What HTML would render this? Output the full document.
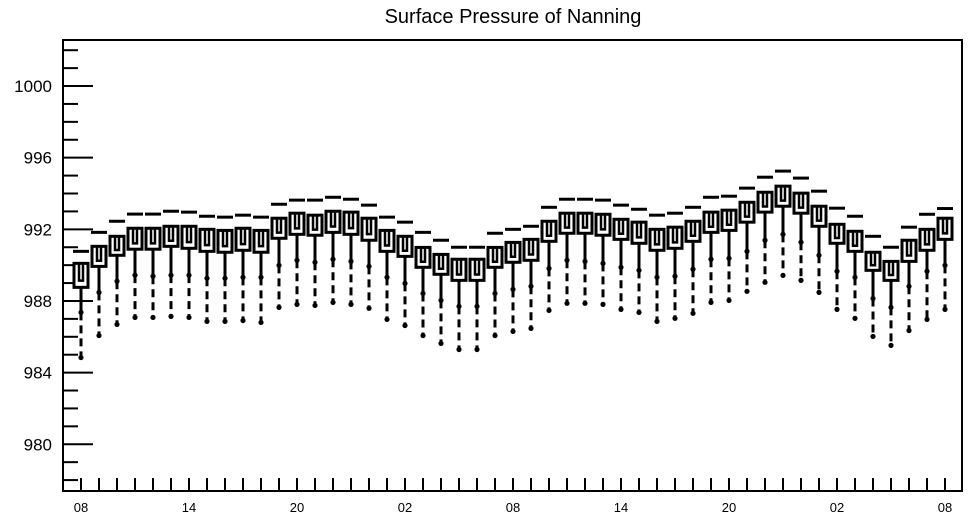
<!DOCTYPE html>
<html><head><meta charset="utf-8"><style>
html,body{margin:0;padding:0;background:#fff;}
svg{display:block;font-family:"Liberation Sans",sans-serif;}
</style></head><body>
<svg id="chart" width="968" height="520" viewBox="0 0 968 520" xmlns="http://www.w3.org/2000/svg">
<text x="513" y="23" font-size="20" text-anchor="middle" fill="#000">Surface Pressure of Nanning</text>
<g id="axes"></g>
<g id="boxes"></g>
</svg>
<script>
const xLabels = ["08","14","20","02","08","14","20","02","08"];
const yTicks = [980,984,988,992,996,1000];
const q3 = [990.10,991.05,991.61,992.06,992.06,992.17,992.17,992.00,991.94,992.06,991.94,992.62,992.90,992.79,993.01,992.96,992.62,991.94,991.61,990.99,990.60,990.33,990.33,990.99,991.27,991.44,992.45,992.90,992.90,992.84,992.56,992.40,992.00,992.12,992.45,992.96,993.07,993.51,994.07,994.41,994.02,993.29,992.28,991.89,990.72,990.21,991.39,992.00,992.62];
const q1 = [988.76,989.93,990.55,990.89,990.89,991.05,990.94,990.77,990.72,990.83,990.72,991.50,991.72,991.67,991.83,991.72,991.39,990.77,990.49,989.88,989.49,989.15,989.15,989.88,990.16,990.27,991.33,991.78,991.78,991.67,991.44,991.22,990.83,990.94,991.33,991.83,991.94,992.40,992.96,993.29,992.90,992.17,991.22,990.77,989.71,989.15,990.21,990.83,991.44];
const maxV = [990.77,991.83,992.45,992.85,992.85,993.01,992.96,992.73,992.68,992.79,992.68,993.40,993.63,993.63,993.79,993.68,993.35,992.68,992.40,991.83,991.39,991.00,991.00,991.78,992.00,992.17,993.23,993.68,993.68,993.63,993.35,993.12,992.79,992.90,993.23,993.79,993.85,994.30,994.91,995.25,994.86,994.13,993.18,992.73,991.61,991.00,992.12,992.84,993.16];
const p10 = [987.36,988.48,989.10,989.44,989.38,989.44,989.44,989.27,989.27,989.32,989.32,989.99,990.27,990.16,990.33,990.21,989.93,989.32,988.98,988.42,988.03,987.70,987.70,988.42,988.65,988.82,989.82,990.27,990.21,990.10,989.88,989.71,989.32,989.38,989.77,990.33,990.38,990.77,991.39,991.72,991.28,990.55,989.66,989.32,988.14,987.64,988.82,989.66,989.99];
const minV = [984.84,986.07,986.69,987.08,987.08,987.14,987.08,986.86,986.86,986.91,986.80,987.64,987.81,987.75,987.92,987.81,987.59,986.97,986.63,986.07,985.63,985.29,985.29,986.07,986.30,986.47,987.47,987.87,987.87,987.81,987.53,987.36,986.86,987.03,987.31,987.92,988.03,988.54,989.04,989.43,989.15,988.48,987.53,987.03,986.02,985.52,986.35,986.97,987.53];

const NS="http://www.w3.org/2000/svg";
const L=63,R=962,T=40,B=491;
const yMin=977.39,yMax=1002.57;
const n=q3.length;
function yS(v){return B-(v-yMin)/(yMax-yMin)*(B-T);}
function xS(i){return 81+i*(945-81)/(n-1);}
function mk(tag,attrs,parent){const e=document.createElementNS(NS,tag);for(const k in attrs)e.setAttribute(k,attrs[k]);parent.appendChild(e);return e;}
const axes=document.getElementById('axes');
const boxes=document.getElementById('boxes');

const frame=mk('rect',{x:L,y:T,width:R-L,height:B-T,fill:'none',stroke:'#000','stroke-width':2},axes);



for(let v=Math.ceil(yMin);v<=yMax;v++){
  const major=(v%4===0);
  const t=mk('line',{x1:L,x2:L+(major?30:15),y1:yS(v),y2:yS(v),stroke:'#000','stroke-width':2},axes);
  
  
}
yTicks.forEach(v=>{
  const t=mk('text',{x:52,y:yS(v)+6,'font-size':17,'text-anchor':'end',fill:'#000'},axes);
  t.textContent=v;
  
  
});
for(let i=0;i<n;i++){
  const t=mk('line',{x1:xS(i),x2:xS(i),y1:B,y2:B-13,stroke:'#000','stroke-width':2},axes);
  
  
}
xLabels.forEach((lab,k)=>{
  const t=mk('text',{x:xS(k*6),y:512,'font-size':13,'text-anchor':'middle',fill:'#000'},axes);
  t.textContent=lab;
  
  
});

for(let i=0;i<n;i++){
  const cx=xS(i);
  const g=mk('g',{},boxes);
  
  
  const top=yS(q3[i]),bot=yS(q1[i]),d=yS(p10[i]),m=yS(minV[i]),mx=yS(maxV[i]);
  const cap=mk('line',{x1:cx-8,x2:cx+8,y1:mx,y2:mx,stroke:'#000','stroke-width':3},g);
  
  
  const w1=mk('line',{x1:cx,x2:cx,y1:bot,y2:d,stroke:'#000','stroke-width':3},g);
  
  
  const w2=mk('line',{x1:cx,x2:cx,y1:d,y2:m,stroke:'#000','stroke-width':3,'stroke-dasharray':'8 5'},g);
  
  
  const d1=mk('circle',{cx:cx,cy:d,r:2.6,fill:'#000'},g);
  
  
  const d2=mk('circle',{cx:cx,cy:m,r:2.6,fill:'#000'},g);
  
  
  const r=mk('rect',{x:cx-7,y:top,width:14,height:bot-top,fill:'#fff',stroke:'#000','stroke-width':3},g);
  
  
  const h=(bot-top)*0.72;
  const u=mk('path',{d:`M${cx-2} ${top} v${h} h4 v${-h}`,fill:'none',stroke:'#000','stroke-width':2.5},g);
  
  
}
</script>
</body></html>
